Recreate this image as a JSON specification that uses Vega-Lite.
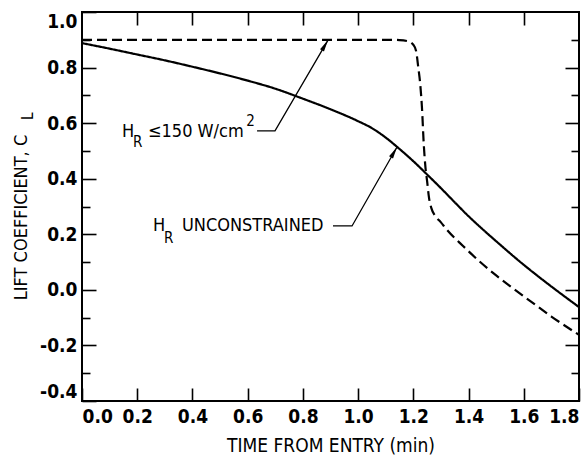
{
  "$schema": "https://vega.github.io/schema/vega-lite/v6.json",
  "width": 497,
  "height": 389,
  "autosize": {"type": "none"},
  "padding": {"left": 82, "top": 12, "right": 5, "bottom": 55},
  "background": "white",
  "config": {
    "font": "DejaVu Sans Condensed, DejaVu Sans, sans-serif",
    "view": {"stroke": "black", "strokeWidth": 2},
    "axis": {"domain": false, "grid": false, "tickColor": "black", "tickWidth": 1.6, "labelColor": "black", "titleColor": "black"}
  },
  "datasets": {
    "curves": [
      {"t": 0.0, "cl": 0.888, "series": "unconstrained"},
      {"t": 0.1, "cl": 0.868, "series": "unconstrained"},
      {"t": 0.2, "cl": 0.847, "series": "unconstrained"},
      {"t": 0.3, "cl": 0.826, "series": "unconstrained"},
      {"t": 0.4, "cl": 0.803, "series": "unconstrained"},
      {"t": 0.5, "cl": 0.779, "series": "unconstrained"},
      {"t": 0.6, "cl": 0.753, "series": "unconstrained"},
      {"t": 0.7, "cl": 0.724, "series": "unconstrained"},
      {"t": 0.8, "cl": 0.688, "series": "unconstrained"},
      {"t": 0.9, "cl": 0.65, "series": "unconstrained"},
      {"t": 1.0, "cl": 0.607, "series": "unconstrained"},
      {"t": 1.05, "cl": 0.582, "series": "unconstrained"},
      {"t": 1.1, "cl": 0.548, "series": "unconstrained"},
      {"t": 1.15, "cl": 0.507, "series": "unconstrained"},
      {"t": 1.2, "cl": 0.463, "series": "unconstrained"},
      {"t": 1.25, "cl": 0.415, "series": "unconstrained"},
      {"t": 1.3, "cl": 0.366, "series": "unconstrained"},
      {"t": 1.35, "cl": 0.315, "series": "unconstrained"},
      {"t": 1.4, "cl": 0.265, "series": "unconstrained"},
      {"t": 1.45, "cl": 0.219, "series": "unconstrained"},
      {"t": 1.5, "cl": 0.175, "series": "unconstrained"},
      {"t": 1.6, "cl": 0.09, "series": "unconstrained"},
      {"t": 1.7, "cl": 0.012, "series": "unconstrained"},
      {"t": 1.8, "cl": -0.062, "series": "unconstrained"},
      {"t": 0.0, "cl": 0.9, "series": "constrained"},
      {"t": 0.3, "cl": 0.9, "series": "constrained"},
      {"t": 0.6, "cl": 0.9, "series": "constrained"},
      {"t": 0.9, "cl": 0.9, "series": "constrained"},
      {"t": 1.1, "cl": 0.9, "series": "constrained"},
      {"t": 1.15, "cl": 0.899, "series": "constrained"},
      {"t": 1.18, "cl": 0.895, "series": "constrained"},
      {"t": 1.2, "cl": 0.882, "series": "constrained"},
      {"t": 1.21, "cl": 0.86, "series": "constrained"},
      {"t": 1.218, "cl": 0.8, "series": "constrained"},
      {"t": 1.225, "cl": 0.74, "series": "constrained"},
      {"t": 1.231, "cl": 0.66, "series": "constrained"},
      {"t": 1.238, "cl": 0.52, "series": "constrained"},
      {"t": 1.244, "cl": 0.44, "series": "constrained"},
      {"t": 1.25, "cl": 0.39, "series": "constrained"},
      {"t": 1.257, "cl": 0.33, "series": "constrained"},
      {"t": 1.265, "cl": 0.295, "series": "constrained"},
      {"t": 1.278, "cl": 0.268, "series": "constrained"},
      {"t": 1.3, "cl": 0.243, "series": "constrained"},
      {"t": 1.32, "cl": 0.218, "series": "constrained"},
      {"t": 1.38, "cl": 0.158, "series": "constrained"},
      {"t": 1.44, "cl": 0.102, "series": "constrained"},
      {"t": 1.5, "cl": 0.052, "series": "constrained"},
      {"t": 1.56, "cl": 0.006, "series": "constrained"},
      {"t": 1.63, "cl": -0.045, "series": "constrained"},
      {"t": 1.7, "cl": -0.096, "series": "constrained"},
      {"t": 1.8, "cl": -0.162, "series": "constrained"}
    ],
    "leaders": [
      {"x": 0.634, "y": 0.572, "id": 1, "o": 1},
      {"x": 0.699, "y": 0.572, "id": 1, "o": 2},
      {"x": 0.891, "y": 0.899, "id": 1, "o": 3},
      {"x": 0.909, "y": 0.23, "id": 2, "o": 1},
      {"x": 0.978, "y": 0.23, "id": 2, "o": 2},
      {"x": 1.141, "y": 0.514, "id": 2, "o": 3}
    ],
    "tips": [
      {"x": 0.891, "y": 0.899},
      {"x": 1.141, "y": 0.514}
    ],
    "labels": [
      {"x": 0.145, "y": 0.55, "txt": "H", "role": "main"},
      {"x": 0.185, "y": 0.514, "txt": "R", "role": "sub"},
      {"x": 0.239, "y": 0.55, "txt": "≤150 W/cm", "role": "main"},
      {"x": 0.595, "y": 0.59, "txt": "2", "role": "sub"},
      {"x": 0.257, "y": 0.212, "txt": "H", "role": "main"},
      {"x": 0.297, "y": 0.169, "txt": "R", "role": "sub"},
      {"x": 0.362, "y": 0.212, "txt": "UNCONSTRAINED", "role": "main"},
      {"x": -0.196, "y": 0.625, "txt": "L", "role": "ylab"}
    ]
  },
  "layer": [
    {
      "data": {"name": "curves"},
      "mark": {"type": "line", "interpolate": "monotone", "color": "black", "strokeWidth": 2.2},
      "encoding": {
        "x": {
          "field": "t", "type": "quantitative",
          "scale": {"domain": [0, 1.8], "nice": false, "zero": false},
          "axis": {
            "orient": "bottom",
            "values": [0, 0.2, 0.4, 0.6, 0.8, 1.0, 1.2, 1.4, 1.6, 1.8],
            "tickSize": -13,
            "labelPadding": 19,
            "labelFlush": true,
            "labelExpr": "format(datum.value, '.1f')",
            "labelFontSize": 19,
            "labelFontWeight": "bold",
            "title": "TIME FROM ENTRY (min)",
            "titleFontSize": 19,
            "titleFontWeight": "normal",
            "titleY": 50,
            "titleBaseline": "alphabetic"
          }
        },
        "y": {
          "field": "cl", "type": "quantitative",
          "scale": {"domain": [-0.4, 1.0], "nice": false, "zero": false},
          "axis": {
            "orient": "left",
            "values": [-0.4, -0.2, 0, 0.2, 0.4, 0.6, 0.8, 1.0],
            "tickSize": -14,
            "labelPadding": 19,
            "labelFlush": true,
            "labelExpr": "replace(format(datum.value, '.1f'), '−', '-')",
            "labelFontSize": 19,
            "labelFontWeight": "bold",
            "title": "LIFT COEFFICIENT, C",
            "titleFontSize": 18,
            "titleFontWeight": "normal",
            "titleAngle": 270,
            "titleX": -61,
            "titleY": 205,
            "titleAlign": "center",
            "titleBaseline": "middle"
          }
        },
        "strokeDash": {
          "field": "series", "type": "nominal",
          "scale": {"domain": ["unconstrained", "constrained"], "range": [[1, 0], [10, 5]]},
          "legend": null
        }
      }
    },
    {
      "data": {"name": "curves"},
      "mark": {"type": "line", "strokeOpacity": 0},
      "encoding": {
        "x": {
          "field": "t", "type": "quantitative",
          "scale": {"domain": [0, 1.8], "nice": false, "zero": false},
          "axis": {"orient": "top", "values": [0.2, 0.4, 0.6, 0.8, 1.0, 1.2, 1.4, 1.6], "tickSize": -13, "labels": false, "title": null}
        },
        "y": {
          "field": "cl", "type": "quantitative",
          "scale": {"domain": [-0.4, 1.0], "nice": false, "zero": false},
          "axis": {
            "orient": "right",
            "values": [-0.2, 0, 0.2, 0.4, 0.6, 0.8],
            "tickSize": -14,
            "labels": false, "title": null
          }
        },
        "detail": {"field": "series"}
      }
    },
    {
      "data": {"name": "curves"},
      "mark": {"type": "line", "strokeOpacity": 0},
      "encoding": {
        "x": {"field": "t", "type": "quantitative", "scale": {"domain": [0, 1.8], "nice": false, "zero": false}, "axis": null},
        "y": {
          "field": "cl", "type": "quantitative",
          "scale": {"domain": [-0.4, 1.0], "nice": false, "zero": false},
          "axis": {"orient": "left", "values": [-0.3, -0.1, 0.1, 0.3, 0.5, 0.7, 0.9], "tickSize": -8, "labels": false, "title": null}
        },
        "detail": {"field": "series"}
      }
    },
    {
      "data": {"name": "curves"},
      "mark": {"type": "line", "strokeOpacity": 0},
      "encoding": {
        "x": {"field": "t", "type": "quantitative", "scale": {"domain": [0, 1.8], "nice": false, "zero": false}, "axis": null},
        "y": {
          "field": "cl", "type": "quantitative",
          "scale": {"domain": [-0.4, 1.0], "nice": false, "zero": false},
          "axis": {"orient": "right", "values": [-0.3, -0.1, 0.1, 0.3, 0.5, 0.7, 0.9], "tickSize": -8, "labels": false, "title": null}
        },
        "detail": {"field": "series"}
      }
    },
    {
      "data": {"name": "leaders"},
      "mark": {"type": "line", "color": "black", "strokeWidth": 1.3},
      "encoding": {
        "x": {"field": "x", "type": "quantitative", "scale": {"domain": [0, 1.8], "nice": false, "zero": false}, "axis": null},
        "y": {"field": "y", "type": "quantitative", "scale": {"domain": [-0.4, 1.0], "nice": false, "zero": false}, "axis": null},
        "detail": {"field": "id"},
        "order": {"field": "o"}
      }
    },
    {
      "data": {"name": "tips"},
      "mark": {"type": "point", "shape": "M0,0 L-0.38,2 L0.38,2 Z", "filled": true, "color": "black", "opacity": 1, "size": 144, "angle": 30},
      "encoding": {
        "x": {"field": "x", "type": "quantitative", "scale": {"domain": [0, 1.8], "nice": false, "zero": false}, "axis": null},
        "y": {"field": "y", "type": "quantitative", "scale": {"domain": [-0.4, 1.0], "nice": false, "zero": false}, "axis": null}
      }
    },
    {
      "data": {"name": "labels"},
      "transform": [{"filter": "datum.role == 'main'"}],
      "mark": {"type": "text", "align": "left", "baseline": "alphabetic", "fontSize": 18, "color": "black"},
      "encoding": {
        "x": {"field": "x", "type": "quantitative", "scale": {"domain": [0, 1.8], "nice": false, "zero": false}, "axis": null},
        "y": {"field": "y", "type": "quantitative", "scale": {"domain": [-0.4, 1.0], "nice": false, "zero": false}, "axis": null},
        "text": {"field": "txt"}
      }
    },
    {
      "data": {"name": "labels"},
      "transform": [{"filter": "datum.role == 'sub'"}],
      "mark": {"type": "text", "align": "left", "baseline": "alphabetic", "fontSize": 15, "color": "black"},
      "encoding": {
        "x": {"field": "x", "type": "quantitative", "scale": {"domain": [0, 1.8], "nice": false, "zero": false}, "axis": null},
        "y": {"field": "y", "type": "quantitative", "scale": {"domain": [-0.4, 1.0], "nice": false, "zero": false}, "axis": null},
        "text": {"field": "txt"}
      }
    },
    {
      "data": {"name": "labels"},
      "transform": [{"filter": "datum.role == 'ylab'"}],
      "mark": {"type": "text", "align": "center", "baseline": "middle", "fontSize": 15, "angle": 270, "color": "black"},
      "encoding": {
        "x": {"field": "x", "type": "quantitative", "scale": {"domain": [0, 1.8], "nice": false, "zero": false}, "axis": null},
        "y": {"field": "y", "type": "quantitative", "scale": {"domain": [-0.4, 1.0], "nice": false, "zero": false}, "axis": null},
        "text": {"field": "txt"}
      }
    }
  ],
  "resolve": {"axis": {"x": "independent", "y": "independent"}}
}
